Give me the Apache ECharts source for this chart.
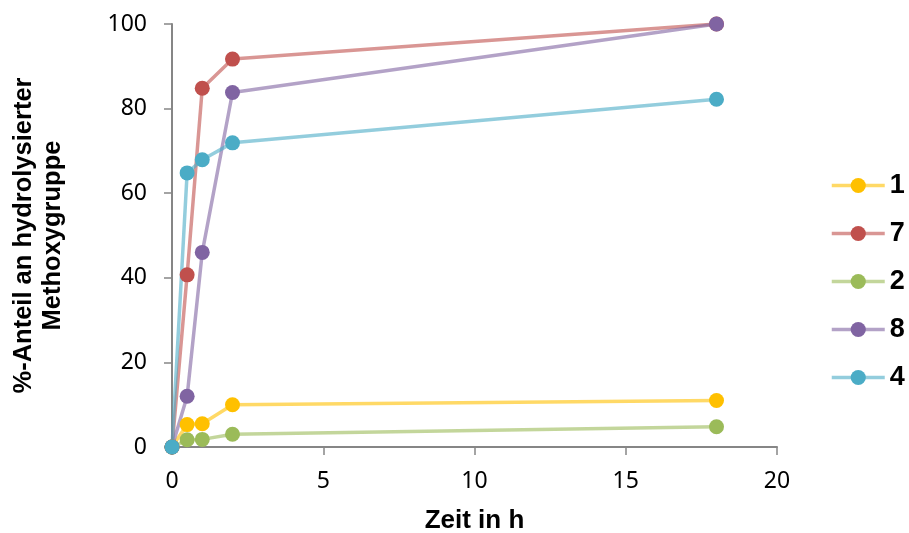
<!DOCTYPE html>
<html>
<head>
<meta charset="utf-8">
<script src="https://cdn.jsdelivr.net/npm/echarts@6/dist/echarts.min.js"></script>
<style>
  html, body { margin: 0; padding: 0; background: #fff; }
  #chart { width: 909px; height: 533px; }
</style>
</head>
<body>
<div id="chart"></div>
<script>
// time points in h
const hours = [0, 0.5, 1, 2, 18];

// % hydrolysed methoxy group per compound
const s1 = [0, 5.3, 5.5, 10.0, 11.0];
const s7 = [0, 40.7, 84.8, 91.7, 100];
const s2 = [0, 1.7, 1.8, 3.0, 4.8];
const s8 = [0, 12.0, 46.0, 83.8, 100];
const s4 = [0, 64.8, 67.9, 71.9, 82.2];

const names = ["1", "7", "2", "8", "4"];
const colors = ["#FFC000", "#C0504D", "#9BBB59", "#8064A2", "#4BACC6"];
const values = [s1, s7, s2, s8, s4];

const axisGray = "#868686";
const chart = echarts.init(document.getElementById("chart"));

const series = values.map((vals, i) => ({
  name: names[i],
  type: "line",
  data: vals.map((v, j) => [hours[j], v]),
  symbol: "circle",
  symbolSize: 15,
  itemStyle: { color: colors[i] },
  lineStyle: { color: colors[i], width: 3.5, opacity: 0.6 },
  emphasis: { disabled: true },
  animation: false,
}));

chart.setOption({
  backgroundColor: "#fff",
  animation: false,
  grid: { left: 172, right: 132, top: 24, bottom: 86, outerBoundsMode: "none" },
  legend: {
    orient: "vertical",
    left: 825,
    top: 167,
    itemWidth: 53,
    itemHeight: 19,
    itemGap: 21,
    data: names,
    lineStyle: { width: 3.5 },
    textStyle: {
      fontFamily: "Liberation Sans",
      fontWeight: "bold",
      fontSize: 27,
      lineHeight: 27,
      color: "#000",
    },
  },
  xAxis: {
    type: "value",
    min: 0,
    max: 20,
    interval: 5,
    name: "Zeit in h",
    nameLocation: "middle",
    nameGap: 61,
    nameTextStyle: {
      fontFamily: "Liberation Sans",
      fontWeight: "bold",
      fontSize: 26,
      color: "#000",
    },
    axisLine: { onZero: false, lineStyle: { color: axisGray, width: 2 } },
    axisTick: { show: true, length: 8, lineStyle: { color: axisGray, width: 1.5 } },
    axisLabel: { margin: 23, fontFamily: "Noto Sans", fontSize: 23, color: "#000" },
    splitLine: { show: false },
  },
  yAxis: {
    type: "value",
    min: 0,
    max: 100,
    interval: 20,
    name: "%-Anteil an hydrolysierter\nMethoxygruppe",
    nameLocation: "middle",
    nameRotate: 90,
    nameGap: 105,
    nameTextStyle: {
      fontFamily: "Liberation Sans",
      fontWeight: "bold",
      fontSize: 25.5,
      lineHeight: 29,
      color: "#000",
    },
    axisLine: { show: true, lineStyle: { color: axisGray, width: 2 } },
    axisTick: { show: true, length: 8, lineStyle: { color: axisGray, width: 1.5 } },
    axisLabel: { margin: 25, fontFamily: "Noto Sans", fontSize: 23, color: "#000" },
    splitLine: { show: false },
  },
  series: series,
});
</script>
</body>
</html>
